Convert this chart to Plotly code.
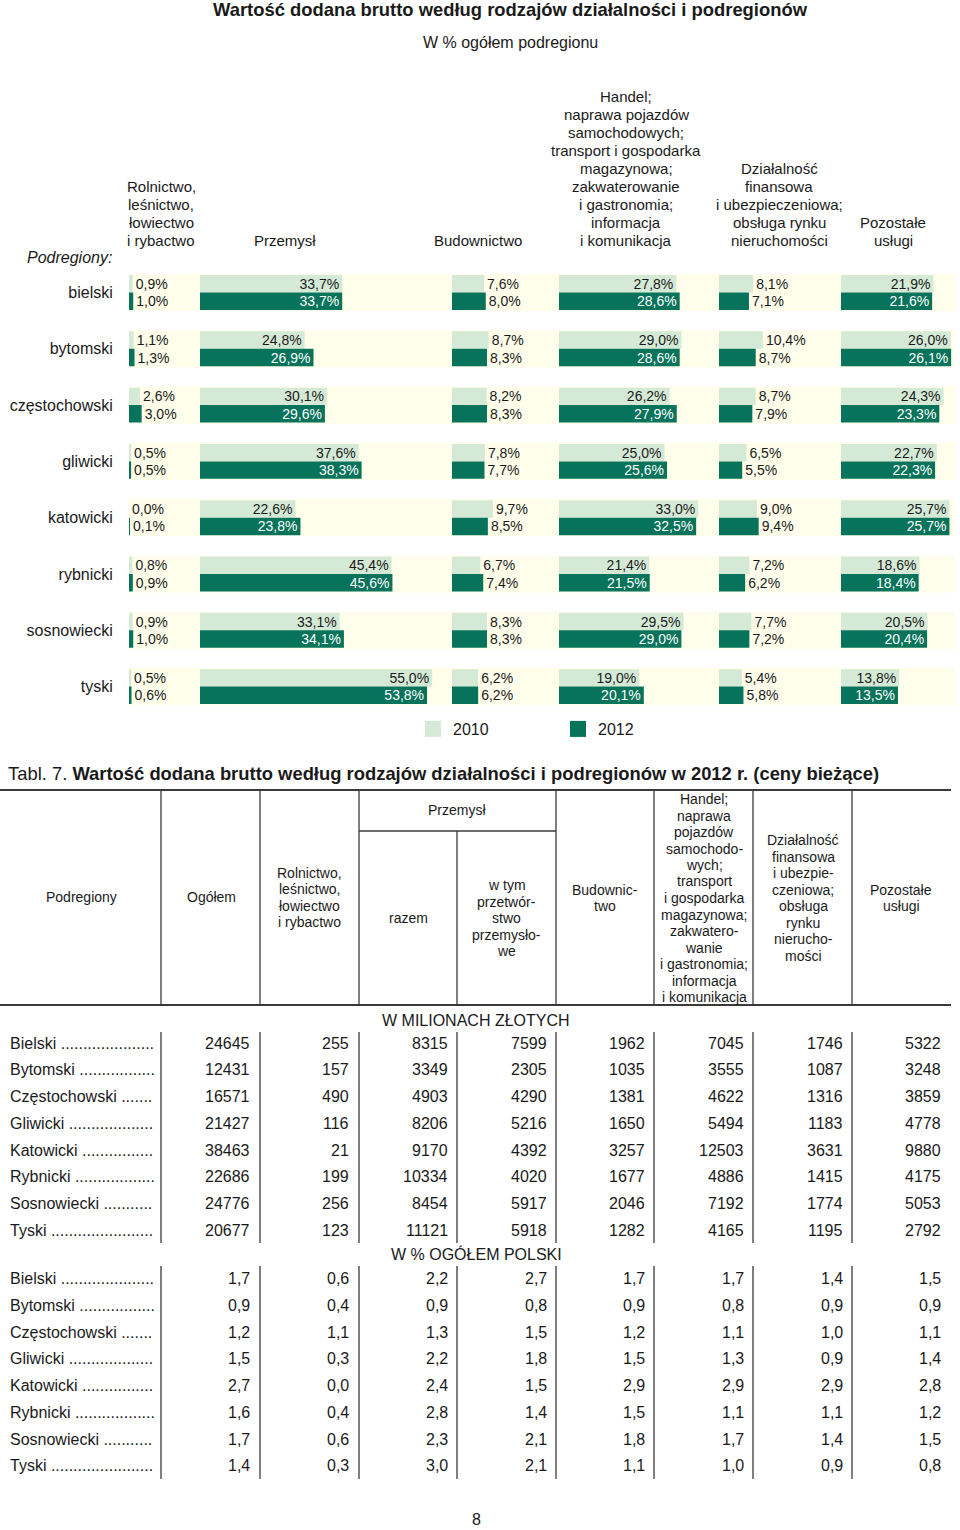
import plotly.graph_objects as go

W, H = 960, 1530
FONT = "Liberation Sans, Arial, sans-serif"
TXT = "#1a1a1a"
LIGHT = "#d5ead6"
DARK = "#06735a"
CREAM = "#fffeea"
LINE = "#3a3a3a"


def px(x):
    return x / W


def py(y):
    return 1 - y / H


# ---------------- data: chart (share of subregion total, %) ----------------
regions = ["bielski", "bytomski", "częstochowski", "gliwicki",
           "katowicki", "rybnicki", "sosnowiecki", "tyski"]

rolnictwo_2010 = [0.9, 1.1, 2.6, 0.5, 0.0, 0.8, 0.9, 0.5]
rolnictwo_2012 = [1.0, 1.3, 3.0, 0.5, 0.1, 0.9, 1.0, 0.6]
przemysl_2010 = [33.7, 24.8, 30.1, 37.6, 22.6, 45.4, 33.1, 55.0]
przemysl_2012 = [33.7, 26.9, 29.6, 38.3, 23.8, 45.6, 34.1, 53.8]
budownictwo_2010 = [7.6, 8.7, 8.2, 7.8, 9.7, 6.7, 8.3, 6.2]
budownictwo_2012 = [8.0, 8.3, 8.3, 7.7, 8.5, 7.4, 8.3, 6.2]
handel_2010 = [27.8, 29.0, 26.2, 25.0, 33.0, 21.4, 29.5, 19.0]
handel_2012 = [28.6, 28.6, 27.9, 25.6, 32.5, 21.5, 29.0, 20.1]
finanse_2010 = [8.1, 10.4, 8.7, 6.5, 9.0, 7.2, 7.7, 5.4]
finanse_2012 = [7.1, 8.7, 7.9, 5.5, 9.4, 6.2, 7.2, 5.8]
pozostale_2010 = [21.9, 26.0, 24.3, 22.7, 25.7, 18.6, 20.5, 13.8]
pozostale_2012 = [21.6, 26.1, 23.3, 22.3, 25.7, 18.4, 20.4, 13.5]

sector_headers = [
    ["Rolnictwo,", "leśnictwo,", "łowiectwo", "i rybactwo"],
    ["Przemysł"],
    ["Budownictwo"],
    ["Handel;", "naprawa pojazdów", "samochodowych;", "transport i gospodarka",
     "magazynowa;", "zakwaterowanie", "i gastronomia;", "informacja",
     "i komunikacja"],
    ["Działalność", "finansowa", "i ubezpieczeniowa;", "obsługa rynku",
     "nieruchomości"],
    ["Pozostałe", "usługi"],
]
series_2010 = [rolnictwo_2010, przemysl_2010, budownictwo_2010,
               handel_2010, finanse_2010, pozostale_2010]
series_2012 = [rolnictwo_2012, przemysl_2012, budownictwo_2012,
               handel_2012, finanse_2012, pozostale_2012]
legend_labels = ["2010", "2012"]

# ---------------- data: table ----------------
table_rows = ["Bielski .....................", "Bytomski .................",
              "Częstochowski .......", "Gliwicki ...................",
              "Katowicki ................", "Rybnicki ..................",
              "Sosnowiecki ...........", "Tyski ......................."]
mln_ogolem = [24645, 12431, 16571, 21427, 38463, 22686, 24776, 20677]
mln_rolnictwo = [255, 157, 490, 116, 21, 199, 256, 123]
mln_przemysl = [8315, 3349, 4903, 8206, 9170, 10334, 8454, 11121]
mln_przetworstwo = [7599, 2305, 4290, 5216, 4392, 4020, 5917, 5918]
mln_budownictwo = [1962, 1035, 1381, 1650, 3257, 1677, 2046, 1282]
mln_handel = [7045, 3555, 4622, 5494, 12503, 4886, 7192, 4165]
mln_finanse = [1746, 1087, 1316, 1183, 3631, 1415, 1774, 1195]
mln_pozostale = [5322, 3248, 3859, 4778, 9880, 4175, 5053, 2792]

pl_ogolem = [1.7, 0.9, 1.2, 1.5, 2.7, 1.6, 1.7, 1.4]
pl_rolnictwo = [0.6, 0.4, 1.1, 0.3, 0.0, 0.4, 0.6, 0.3]
pl_przemysl = [2.2, 0.9, 1.3, 2.2, 2.4, 2.8, 2.3, 3.0]
pl_przetworstwo = [2.7, 0.8, 1.5, 1.8, 1.5, 1.4, 2.1, 2.1]
pl_budownictwo = [1.7, 0.9, 1.2, 1.5, 2.9, 1.5, 1.8, 1.1]
pl_handel = [1.7, 0.8, 1.1, 1.3, 2.9, 1.1, 1.7, 1.0]
pl_finanse = [1.4, 0.9, 1.0, 0.9, 2.9, 1.1, 1.4, 0.9]
pl_pozostale = [1.5, 0.9, 1.1, 1.4, 2.8, 1.2, 1.5, 0.8]

mln_cols = [mln_ogolem, mln_rolnictwo, mln_przemysl, mln_przetworstwo,
            mln_budownictwo, mln_handel, mln_finanse, mln_pozostale]
pl_cols = [pl_ogolem, pl_rolnictwo, pl_przemysl, pl_przetworstwo,
           pl_budownictwo, pl_handel, pl_finanse, pl_pozostale]

# ---------------- layout geometry ----------------
col_starts = [129, 200, 452, 559, 719, 841]
col_end = 958
SCALE = 4.22  # px per percent
row_top_center = 292.5
row_pitch = 56.3
n = len(regions)
y_top = row_top_center - row_pitch / 2
y_bot = row_top_center + (n - 1) * row_pitch + row_pitch / 2

fig = go.Figure()
annotations = []
shapes = []


def fmt(v):
    return f"{v:.1f}".replace(".", ",") + "%"


for k in range(6):
    xname = "x" if k == 0 else f"x{k + 1}"
    for vals, col, off, tcol in ((series_2010[k], LIGHT, -0.31, TXT),
                                 (series_2012[k], DARK, 0.0, "white")):
        pos = ["inside" if v >= 12 else "outside" for v in vals]
        fig.add_trace(go.Bar(
            x=vals, y=list(range(n)), orientation="h",
            width=0.31, offset=off,
            marker=dict(color=col, line=dict(width=0)),
            text=[fmt(v) for v in vals], textposition=pos,
            insidetextanchor="end", constraintext="none", cliponaxis=False,
            textfont=dict(family=FONT, size=14),
            insidetextfont=dict(family=FONT, size=14, color=tcol),
            outsidetextfont=dict(family=FONT, size=14, color=TXT),
            xaxis=xname, yaxis="y", showlegend=False, hoverinfo="skip",
        ))
    x0 = col_starts[k]
    x1 = col_starts[k + 1] if k < 5 else col_end
    axkey = "xaxis" if k == 0 else f"xaxis{k + 1}"
    fig.update_layout(**{axkey: dict(
        domain=[px(x0), px(x1)], range=[0, (x1 - x0) / SCALE],
        anchor="y", visible=False, fixedrange=True)})

# legend entries (square markers)
for name, col in zip(legend_labels, [LIGHT, DARK]):
    fig.add_trace(go.Scatter(
        x=[None], y=[None], mode="markers", name=name,
        marker=dict(symbol="square", size=16, color=col),
        xaxis="x", yaxis="y", hoverinfo="skip"))

# cream row bands
for i in range(n):
    shapes.append(dict(type="rect", xref="paper", yref="y",
                       x0=px(129), x1=px(955), y0=i - 0.33, y1=i + 0.33,
                       fillcolor=CREAM, line=dict(width=0), layer="below"))


def txt(x, y, s, size=15, xanchor="center", bold=False, italic=False):
    if bold:
        s = f"<b>{s}</b>"
    if italic:
        s = f"<i>{s}</i>"
    annotations.append(dict(
        x=px(x), y=py(y), xref="paper", yref="paper", text=s,
        showarrow=False, xanchor=xanchor, yanchor="middle",
        font=dict(family=FONT, size=size, color=TXT)))


def block(lines, xc, y_center, spacing, size):
    m = len(lines)
    first = y_center - (m - 1) * spacing / 2
    for j, line in enumerate(lines):
        txt(xc, first + j * spacing, line, size)


def block_bottom(lines, xc, y_last, spacing, size):
    m = len(lines)
    for j, line in enumerate(lines):
        txt(xc, y_last - (m - 1 - j) * spacing, line, size)


# titles
txt(510, 10, "Wartość dodana brutto według rodzajów działalności i podregionów",
    18.4, bold=True)
txt(510, 42, "W % ogółem podregionu", 16)

# column headers
header_x = [161, 285, 478, 626, 779, 893]
for k, lines in enumerate(sector_headers):
    block_bottom(lines, header_x[k], 240, 17.9, 15)
txt(25, 257, "Podregiony:", 16, xanchor="left", italic=True)

# ---------------- table ----------------
txt(6, 773, "Tabl. 7. <b>Wartość dodana brutto według rodzajów działalności "
    "i podregionów w 2012 r. (ceny bieżące)</b>", 18.4, xanchor="left")

vlines = [161, 260, 359, 457, 556, 654, 753, 852]
T_TOP, T_MID, T_HDR = 790, 831, 1005
shapes.append(dict(type="line", xref="paper", yref="paper", x0=0, x1=px(951),
                   y0=py(T_TOP), y1=py(T_TOP), line=dict(color=LINE, width=1.8)))
shapes.append(dict(type="line", xref="paper", yref="paper", x0=0, x1=px(951),
                   y0=py(T_HDR), y1=py(T_HDR), line=dict(color=LINE, width=1.8)))
shapes.append(dict(type="line", xref="paper", yref="paper", x0=px(359), x1=px(556),
                   y0=py(T_MID), y1=py(T_MID), line=dict(color=LINE, width=1.3)))
for xv in vlines:
    ytop = T_MID if xv == 457 else T_TOP
    shapes.append(dict(type="line", xref="paper", yref="paper", x0=px(xv), x1=px(xv),
                       y0=py(ytop), y1=py(T_HDR), line=dict(color=LINE, width=1.3)))
    for (a, b) in ((1032, 1243), (1266, 1479)):
        shapes.append(dict(type="line", xref="paper", yref="paper", x0=px(xv), x1=px(xv),
                           y0=py(a), y1=py(b), line=dict(color=LINE, width=1.3)))

HS = 14
block(["Podregiony"], 81, 897, 16.3, HS)
block(["Ogółem"], 211, 897, 16.3, HS)
block(["Rolnictwo,", "leśnictwo,", "łowiectwo", "i rybactwo"], 309, 897.5, 16.3, HS)
block(["Przemysł"], 457, 810, 16.3, HS)
block(["razem"], 408, 918, 16.3, HS)
block(["w tym", "przetwór-", "stwo", "przemysło-", "we"], 507, 918, 16.5, HS)
block(["Budownic-", "two"], 605, 898, 16.3, HS)
block(["Handel;", "naprawa", "pojazdów", "samochodo-", "wych;", "transport",
       "i gospodarka", "magazynowa;", "zakwatero-", "wanie", "i gastronomia;",
       "informacja", "i komunikacja"], 704, 898, 16.5, HS)
block(["Działalność", "finansowa", "i ubezpie-", "czeniowa;", "obsługa",
       "rynku", "nierucho-", "mości"], 803, 898, 16.5, HS)
block(["Pozostałe", "usługi"], 901, 898, 16.3, HS)

txt(476, 1021, "W MILIONACH ZŁOTYCH", 16)
txt(476, 1254, "W % OGÓŁEM POLSKI", 16)

val_right = [252, 351, 450, 549, 647, 746, 845, 943]
ROW_STEP = 26.75
for block_y0, cols, is_pct in ((1043, mln_cols, False), (1278.5, pl_cols, True)):
    for r, lab in enumerate(table_rows):
        yy = block_y0 + r * ROW_STEP
        txt(8, yy, lab, 16, xanchor="left")
        for c, col in enumerate(cols):
            v = col[r]
            s = f"{v:.1f}".replace(".", ",") if is_pct else str(v)
            txt(val_right[c], yy, s, 16, xanchor="right")

txt(476, 1519, "8", 16)

fig.update_layout(
    width=W, height=H, margin=dict(l=0, r=0, t=0, b=0),
    paper_bgcolor="white", plot_bgcolor="rgba(0,0,0,0)",
    barmode="overlay",
    font=dict(family=FONT, color=TXT),
    yaxis=dict(domain=[py(y_bot), py(y_top)], range=[n - 0.5, -0.5],
               anchor="x", tickvals=list(range(n)), ticktext=regions,
               ticks="outside", ticklen=12, tickcolor="rgba(0,0,0,0)",
               showline=False, showgrid=False, zeroline=False,
               tickfont=dict(family=FONT, size=16, color=TXT), fixedrange=True),
    showlegend=True,
    legend=dict(orientation="h", x=px(413), y=py(729), xanchor="left",
                yanchor="middle", entrywidth=100, entrywidthmode="pixels",
                font=dict(family=FONT, size=16, color=TXT),
                bgcolor="rgba(0,0,0,0)", traceorder="normal"),
    annotations=annotations, shapes=shapes,
)

fig.write_html("out.html",
               config={"displayModeBar": False},
               post_script="document.body.style.margin='0';"
                           "document.body.style.overflow='hidden';")
